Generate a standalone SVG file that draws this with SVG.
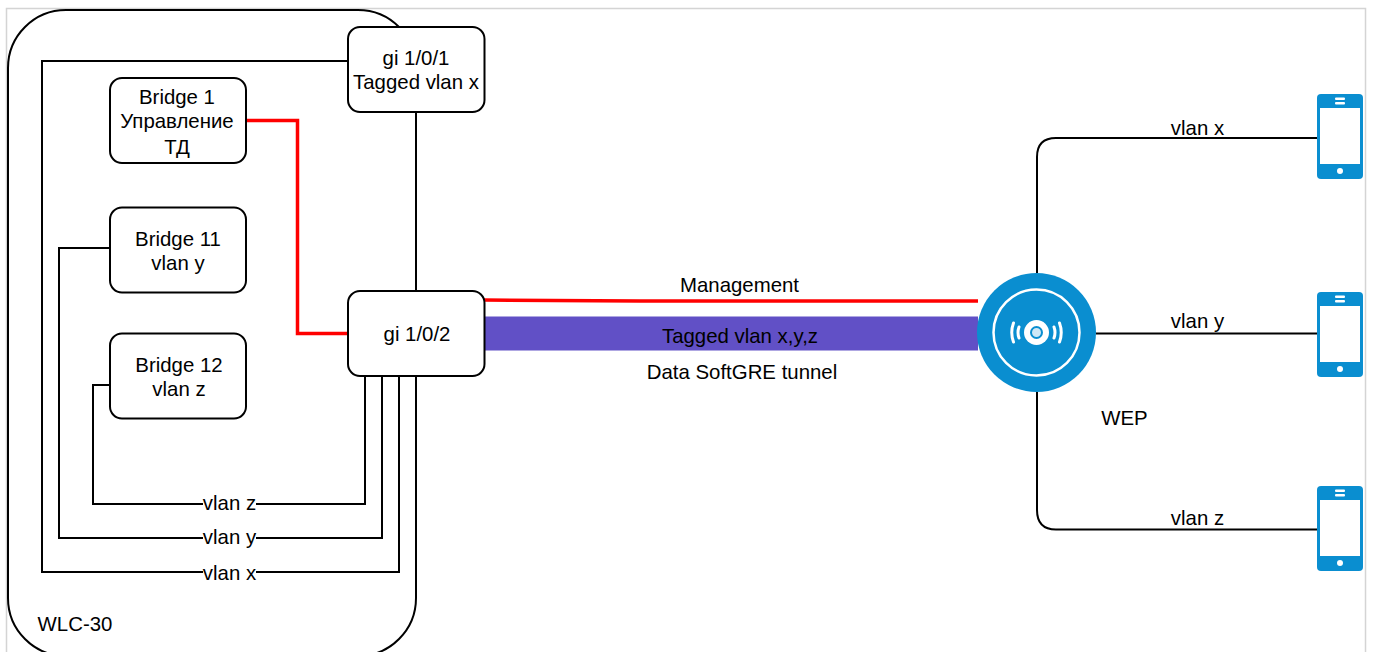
<svg xmlns="http://www.w3.org/2000/svg" width="1373" height="652" viewBox="0 0 1373 652">
<style>
text{font-family:"Liberation Sans",Arial,sans-serif;font-size:20.4px;fill:#000;text-anchor:middle}
.box{fill:#fff;stroke:#000;stroke-width:2}
.ln{fill:none;stroke:#000;stroke-width:2}
.red{fill:none;stroke:#f00;stroke-width:3.5}
.blue{fill:#0a8ed0}
.w{fill:#fff}
</style>
<defs>
<g id="phone">
<rect class="blue" x="0" y="0" width="46" height="85" rx="4"/>
<rect class="w" x="3" y="14" width="40" height="56"/>
<rect class="w" x="18" y="3.500" width="10" height="2.500" rx="1"/>
<rect class="w" x="18" y="8" width="10" height="2.500" rx="1"/>
<circle class="w" cx="23" cy="77" r="3"/>
</g>
</defs>
<rect x="0" y="0" width="1373" height="652" fill="#fff"/>
<rect id="frame" x="6.500" y="8.500" width="1359" height="660" fill="#fff" stroke="#d4d4d4" stroke-width="1.500"/>
<g id="wlc30"><rect x="8" y="10" width="408" height="646" rx="58" fill="#fff" stroke="#000" stroke-width="2"/><text x="75" y="631">WLC-30</text></g>
<g id="connectors">
<path class="ln" d="M348 61H42V572H203M256 572H399V376"/>
<path class="ln" d="M110 248H59V538H203M256 538H382V376"/>
<path class="ln" d="M110 385H93V504H203M256 504H365V376"/>
<path class="ln" d="M416 112V291"/>
<path class="red" d="M246 120.500H297.500V333.500H348"/>
<path class="red" d="M484 300L640 301H978"/>
<rect x="485" y="316.500" width="493" height="34" fill="#6150c6"/>
<path class="ln" d="M1037 273V157Q1037 138 1056 138H1318"/>
<path class="ln" d="M1096 333.500H1318"/>
<path class="ln" d="M1037 392V510Q1037 529.500 1056 529.500H1318"/>
</g>
<text x="229.500" y="510">vlan z</text>
<text x="229.500" y="544">vlan y</text>
<text x="229.500" y="580">vlan x</text>
<g id="gi101"><rect class="box" x="348" y="27" width="136.500" height="85" rx="12"/><text x="416" y="65">gi 1/0/1</text><text x="416" y="89">Tagged vlan x</text></g>
<g id="bridge1"><rect class="box" x="110" y="78" width="136" height="85" rx="12"/><text x="177" y="104">Bridge 1</text><text x="177" y="128">Управление</text><text x="177" y="154">ТД</text></g>
<g id="bridge11"><rect class="box" x="110" y="207.500" width="136" height="85" rx="12"/><text x="178" y="246">Bridge 11</text><text x="178" y="270">vlan y</text></g>
<g id="bridge12"><rect class="box" x="110" y="333.500" width="136" height="85" rx="12"/><text x="179" y="372">Bridge 12</text><text x="179" y="396">vlan z</text></g>
<g id="gi102"><rect class="box" x="348" y="291" width="136.500" height="85" rx="12"/><text x="417" y="341">gi 1/0/2</text></g>
<text x="739.500" y="292">Management</text>
<text x="740" y="343">Tagged vlan x,y,z</text>
<text x="742" y="379">Data SoftGRE tunnel</text>
<g id="wep">
<circle class="blue" cx="1036.500" cy="332.500" r="59.500"/>
<circle cx="1036.500" cy="332.500" r="43" fill="none" stroke="#fff" stroke-width="2.500"/>
<circle class="w" cx="1036.500" cy="332.500" r="12.500"/>
<circle cx="1036.500" cy="332.500" r="5.500" fill="#cfe8f6" stroke="#0a8ed0" stroke-width="2"/>
<path d="M1019 327Q1017 332.500 1019 338M1054 327Q1056 332.500 1054 338M1013.500 323Q1010 332.500 1013.500 342M1059.500 323Q1063 332.500 1059.500 342" fill="none" stroke="#fff" stroke-width="3" stroke-linecap="round"/>
<text x="1124.500" y="425">WEP</text>
</g>
<text x="1197.500" y="135">vlan x</text>
<text x="1197.500" y="328">vlan y</text>
<text x="1197.500" y="525">vlan z</text>
<use id="phone1" href="#phone" x="1317" y="94"/>
<use id="phone2" href="#phone" x="1317" y="292"/>
<use id="phone3" href="#phone" x="1317" y="486"/>
</svg>
